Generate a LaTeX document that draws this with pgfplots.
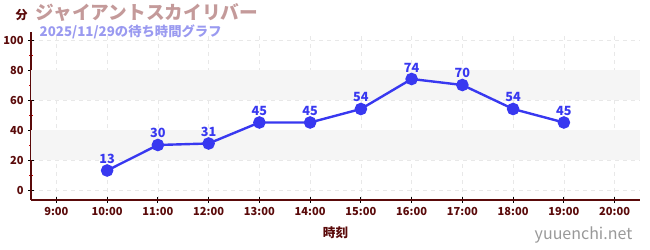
\documentclass[border=0pt]{standalone}
\usepackage{pgfplots}
\pgfplotsset{compat=1.18}
\usepackage{fontspec}
\setmainfont{Noto Sans CJK JP}
\definecolor{axred}{HTML}{5A0A0A}
\definecolor{linebl}{HTML}{3838F0}
\definecolor{titlec}{HTML}{C49A9A}
\definecolor{subc}{HTML}{9A9AF0}
\definecolor{bandc}{HTML}{F5F5F5}
\definecolor{gridc}{HTML}{E8E8E8}
\begin{document}
\begin{tikzpicture}[x=0.75pt,y=0.75pt]
\path[use as bounding box] (0,0) rectangle (650,250);
\begin{axis}[
  at={(31*0.75pt,50*0.75pt)}, anchor=south west,
  scale only axis, width=609*0.75pt, height=167.5*0.75pt,
  xmin=8.5, xmax=20.5, ymin=-6.67, ymax=105,
  xtick={9,...,20},
  xticklabels={9:00,10:00,11:00,12:00,13:00,14:00,15:00,16:00,17:00,18:00,19:00,20:00},
  ytick={0,20,40,60,80,100},
  minor ytick={10,30,50,70,90},
  axis x line*=bottom, axis y line*=left,
  axis line style={draw=axred, line width=0.9pt, -},
  x axis line style={-}, y axis line style={-},
  tick style={draw=black, line width=0.6pt},
  major tick length=4pt,
  minor tick length=2.5pt,
  minor tick style={draw=red!80!black},
  ytick pos=left, xtick pos=bottom,
  tick align=center,
  grid=major,
  major grid style={draw=gridc, dashed, line width=0.5pt},
  tick label style={font=\fontsize{8.3}{9}\selectfont\bfseries, text=axred},
  /pgf/number format/assume math mode=true,
  xlabel={時刻}, xlabel style={font=\fontsize{9.5}{10}\selectfont\bfseries, text=axred, yshift=-1pt},
  clip=false,
]
\fill[bandc] (axis cs:8.5,20) rectangle (axis cs:20.5,40);
\fill[bandc] (axis cs:8.5,60) rectangle (axis cs:20.5,80);
\addplot[color=linebl, line width=1.8pt, mark=*, mark size=3.8pt,
  nodes near coords, every node near coord/.append style={font=\fontsize{9.5}{10}\selectfont\bfseries, text=linebl, yshift=1pt}]
 coordinates {(10,13) (11,30) (12,31) (13,45) (14,45) (15,54) (16,74) (17,70) (18,54) (19,45)};
\end{axis}
\node[anchor=west, font=\fontsize{9}{10}\selectfont\bfseries, text=axred] at (11,235) {分};
\node[anchor=west, font=\fontsize{14}{15}\selectfont\bfseries, text=titlec] at (31,237) {ジャイアントスカイリバー};
\node[anchor=west, font=\fontsize{10}{11}\selectfont\bfseries, text=subc] at (35,218) {2025/11/29の待ち時間グラフ};
\node[anchor=east, font=\fontsize{12}{13}\selectfont, text=gray!80] at (637,15) {yuuenchi.net};
\end{tikzpicture}
\end{document}
